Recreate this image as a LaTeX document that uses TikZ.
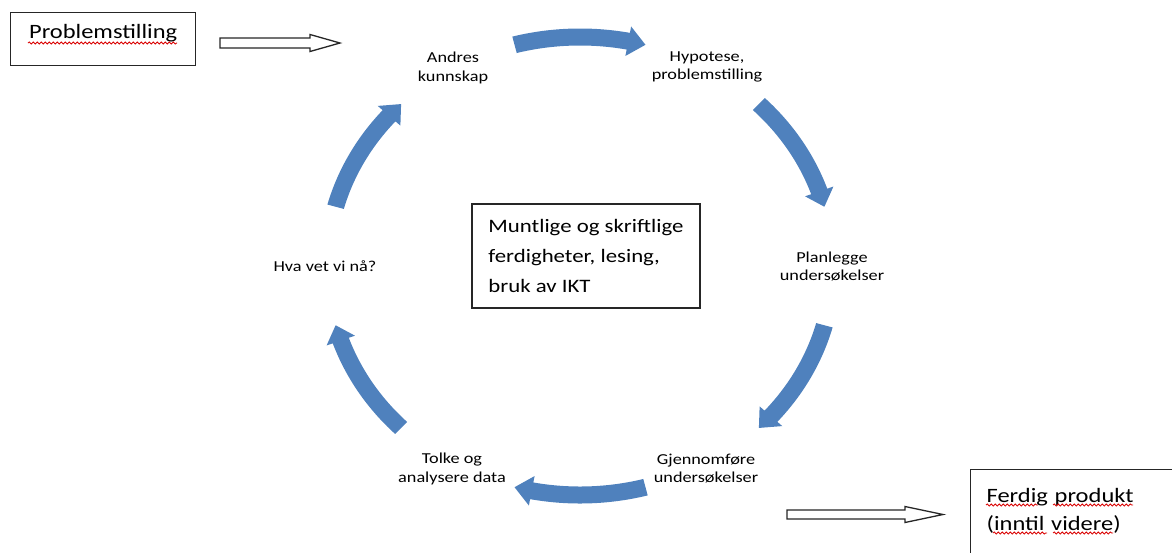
\documentclass[tikz,border=0pt]{standalone}
\usepackage{fontspec}
\setmainfont{Carlito}[FakeStretch=1.2]
\usetikzlibrary{
	decorations.pathmorphing,
	calc
}
\definecolor{cycblue}{RGB}{79,129,189}

\begin{document}
\begin{tikzpicture}
[x=1pt,y=-1pt,
cyclabel/.style={align=center,font=\fontsize{15.2}{18.5}\selectfont},
cornerbox/.style={draw=black!85,line width=1.3pt,inner sep=0pt,font=\fontsize{20.4}{28.5}\selectfont},
midbox/.style={draw=black!85,line width=1.3pt,minimum width=228pt,minimum height=104pt,align=left,font=\fontsize{19}{29.6}\selectfont},
cycarrow/.style={fill=cycblue},
hollow/.style={draw=black!85,line width=1.3pt,fill=white},
spell/.style={draw=red!85!black,line width=0.8pt,decorate,decoration={snake,amplitude=1.1pt,segment length=4pt}}]
\useasboundingbox (0,0) rectangle (1172,552);
\clip (0,0) rectangle (1172,552);

% corner boxes
\node (prob) at (10,12) [cornerbox,anchor=north west,minimum width=185pt,text height=26pt,text depth=27pt] {Problemstilling};
\node (ferdig) at (970,469) [cornerbox,anchor=north west,inner xsep=16pt,text width=190pt,align=left,text height=32.7pt,text depth=100pt] {Ferdig produkt\\(inntil videre)};
\draw[spell] (28,43) -- (177,43);
\draw[spell] (986,505) -- (1038,505);
\draw[spell] (1053,505) -- (1133,505);
\draw[spell] (993,533) -- (1047,533);
\draw[spell] (1053,533) -- (1113,533);

% hollow arrows in and out
\coordinate (inarrow) at (220,43);
\coordinate (outarrow) at (787,514.5);
\draw[hollow] (inarrow) ++(0,-5) -- ++(90,0) -- ++(0,-3.5) -- ++(30,8.5) -- ++(-30,8.5) -- ++(0,-3.5) -- ++(-90,0) -- cycle;
\draw[hollow] (outarrow) ++(0,-4.5) -- ++(118,0) -- ++(0,-3.5) -- ++(38,8) -- ++(-38,8) -- ++(0,-3.5) -- ++(-118,0) -- cycle;

% the cycle
\node (mid) at (586,256) [midbox] {Muntlige og skriftlige\\ferdigheter, lesing,\\bruk av IKT};
\node (andres) at (453,68) [cyclabel] {Andres\\kunnskap};
\node (hypo) at (707,67) [cyclabel] {Hypotese,\\problemstilling};
\node (plan) at (832,266.5) [cyclabel] {Planlegge\\undersøkelser};
\node (gjen) at (706,468.7) [cyclabel] {Gjennomføre\\undersøkelser};
\node (tolke) at (452,469) [cyclabel] {Tolke og\\analysere data};
\node (hva) at (325,266) [cyclabel] {Hva vet vi nå?};

% block arcs, clockwise, 30 degrees each
\coordinate (cyc) at (580,266);
\foreach \a in {-90,-30,30,90,150,210}
  \fill[cycarrow] ($(cyc)+({261.5*cos(\a-15)},{237.5*sin(\a-15)})$)
    arc[start angle=\a-15,end angle=\a+11,x radius=261.5,y radius=237.5]
    -- ($(cyc)+({268*cos(\a+11)},{244*sin(\a+11)})$)
    -- ($(cyc)+({253*cos(\a+15)},{229*sin(\a+15)})$)
    -- ($(cyc)+({238*cos(\a+11)},{214*sin(\a+11)})$)
    -- ($(cyc)+({244.5*cos(\a+11)},{220.5*sin(\a+11)})$)
    arc[start angle=\a+11,end angle=\a-15,x radius=244.5,y radius=220.5] -- cycle;
\end{tikzpicture}
\end{document}
